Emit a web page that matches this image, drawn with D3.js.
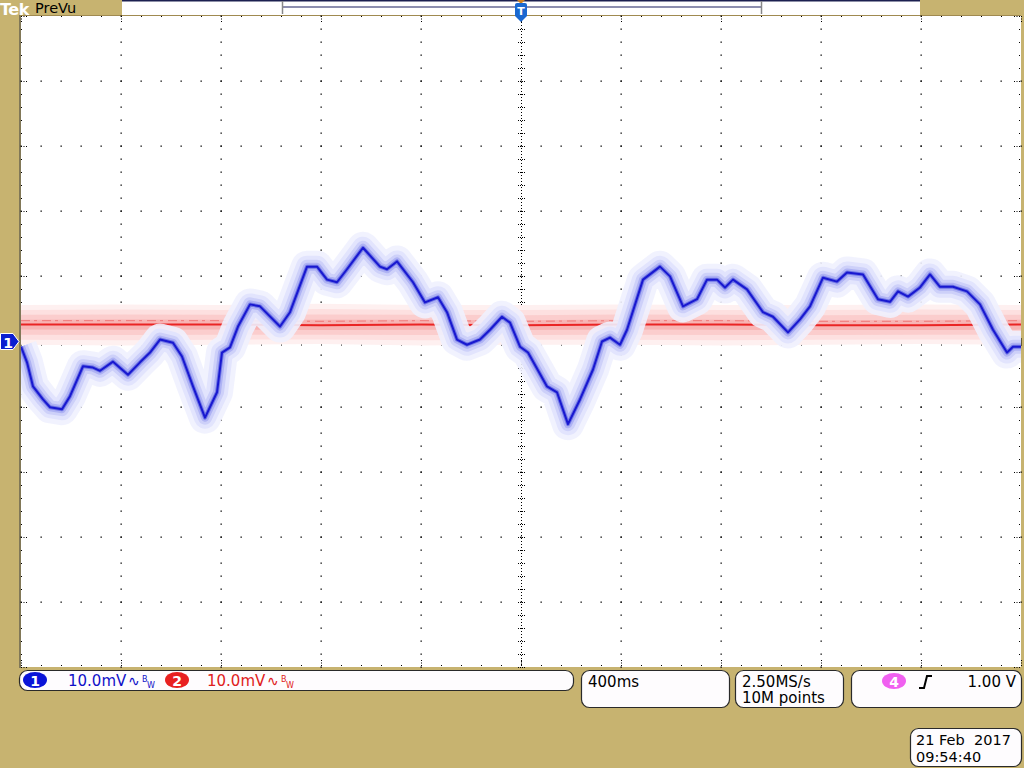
<!DOCTYPE html>
<html><head><meta charset="utf-8">
<script src="https://cdn.jsdelivr.net/npm/d3@7"></script>
<style>html,body{margin:0;padding:0;background:#c7b370;overflow:hidden}svg{display:block}text{white-space:pre}</style>
</head><body>
<svg id="c" width="1024" height="768"></svg>
<script>
// ---- Data ----
// Channel 1 (blue), time in ms relative to trigger, value in mV
const ch1Time = [-2000,-1976,-1952,-1912,-1884,-1836,-1804,-1752,-1712,-1684,-1632,-1572,-1524,-1484,-1444,-1392,-1356,-1312,-1264,-1216,-1196,-1164,-1132,-1084,-1044,-964,-924,-856,-816,-776,-736,-696,-632,-564,-536,-496,-432,-384,-332,-296,-256,-216,-164,-124,-76,-44,-4,28,104,144,188,236,288,324,356,396,424,488,556,596,648,704,744,784,816,848,904,968,1008,1068,1116,1156,1208,1264,1304,1368,1428,1476,1508,1548,1596,1636,1676,1728,1784,1836,1888,1944,1968,2000];
const ch1Values = [-0.8,-3.2,-6.9,-8.9,-10.1,-10.4,-8.4,-3.8,-4.0,-4.5,-3.1,-5.1,-3.2,-1.7,0.3,-0.2,-2.3,-6.9,-11.7,-7.8,-1.7,-0.9,2.3,5.7,5.4,2.3,4.5,11.5,11.5,9.5,9.1,11.1,14.4,11.5,11.1,12.3,9.1,6.0,6.8,4.5,0.3,-0.5,0.3,1.8,3.8,2.9,-0.8,-1.7,-6.9,-7.8,-12.7,-8.9,-4.3,0.0,0.6,-0.5,1.8,9.5,11.5,10.0,5.4,6.5,9.5,9.5,8.3,9.5,8.0,4.5,3.8,1.4,3.4,5.4,9.8,9.2,10.6,10.3,6.5,6.1,7.7,6.9,8.3,10.3,8.4,8.4,7.7,5.7,1.8,-1.7,-0.8,-0.8];
// Channel 2 (red)
const ch2Time   = [-2000,-1600,-1200,-800,-400,0,400,800,1200,1600,2000];
const ch2Values = [2.6,2.6,2.6,2.5,2.6,2.5,2.6,2.6,2.5,2.5,2.6];
const ch2Max    = [5.6,5.7,5.6,5.8,5.6,5.6,5.7,5.6,5.6,5.7,5.6];
const ch2Min    = [-0.5,-0.6,-0.5,-0.4,-0.6,-0.5,-0.5,-0.6,-0.5,-0.4,-0.5];
// Settings / labels
const timeDomain = [-2000, 2000];   // 400 ms/div, 10 divisions
const voltDomain = [-50, 50];       // 10 mV/div, 10 divisions
const ch1Scale = "10.0mV", ch2Scale = "10.0mV";
const timeScaleLabel = "400ms";
const sampleRate = "2.50MS/s", recordLen = "10M points";
const trigLevel = "1.00 V";
const dateLabel = "21 Feb  2017", timeLabel = "09:54:40";

// ---- Layout ----
const svg = d3.select("#c");
const L = 21, R = 1021, T = 16, B = 667;
const x = d3.scaleLinear().domain(timeDomain).range([L, R]);
const y = d3.scaleLinear().domain(voltDomain).range([B, T]);
const KH = "#c7b370";
const FONT = "DejaVu Sans, sans-serif";

svg.append("defs").append("clipPath").attr("id","plotclip").append("rect")
  .attr("x",L).attr("y",T).attr("width",R-L).attr("height",B-T);

svg.append("rect").attr("width",1024).attr("height",768).attr("fill",KH);

// top status bar
svg.append("rect").attr("x",122).attr("y",0).attr("width",798).attr("height",15).attr("fill","#fff");
svg.append("rect").attr("x",122).attr("y",0).attr("width",798).attr("height",1.5).attr("fill","#1c2050");
svg.append("text").attr("x",0).attr("y",15).attr("font-family",FONT).attr("font-size",16).attr("font-weight","bold").attr("fill","#fff").attr("letter-spacing",-0.5).text("Tek");
svg.append("text").attr("x",35).attr("y",13).attr("font-family",FONT).attr("font-size",14.5).attr("fill","#000").text("PreVu");
// record view bracket
svg.append("line").attr("x1",283).attr("x2",761).attr("y1",7).attr("y2",7).attr("stroke","#1c2060").attr("stroke-width",1.2);
[282.5,761.5].forEach(bx=>{
  svg.append("line").attr("x1",bx).attr("x2",bx).attr("y1",1).attr("y2",14).attr("stroke","#888").attr("stroke-width",1.5);
});

// plot area
svg.append("rect").attr("x",L).attr("y",T).attr("width",R-L).attr("height",B-T).attr("fill","#fff");
svg.append("line").attr("x1",20).attr("x2",20).attr("y1",15).attr("y2",668).attr("stroke","#6a6450").attr("stroke-width",1.5);
svg.append("line").attr("x1",20).attr("x2",1021).attr("y1",15.5).attr("y2",15.5).attr("stroke","#a08a50").attr("stroke-width",1);

// grid
const g = svg.append("g");
const majorX = d3.range(-2000, 2001, 400), majorY = d3.range(-50, 50.01, 10);
const minorX = d3.range(-2000, 2001, 80), minorY = d3.range(-50, 50.01, 2);
const dot = (px,py)=>g.append("rect").attr("x",Math.round(px)-0.5).attr("y",Math.round(py)-0.5).attr("width",1.3).attr("height",1.3).attr("fill","#000");
majorX.forEach(mx=>{ if(mx===-2000||mx===2000||mx===0) return; minorY.forEach(my=>dot(x(mx),y(my))); });
majorY.forEach(my=>{ if(my===-50||my===50||my===0) return; minorX.forEach(mx=>dot(x(mx),y(my))); });
// center crosshair
g.append("line").attr("x1",L).attr("x2",R).attr("y1",Math.round(y(0))+0.5).attr("y2",Math.round(y(0))+0.5).attr("stroke","#000").attr("stroke-width",1).attr("stroke-dasharray","1,2");
g.append("line").attr("x1",Math.round(x(0))+0.5).attr("x2",Math.round(x(0))+0.5).attr("y1",T).attr("y2",B).attr("stroke","#000").attr("stroke-width",1).attr("stroke-dasharray","1,2");
minorX.forEach(mx=>{ const px=Math.round(x(mx))+0.5;
  g.append("line").attr("x1",px).attr("x2",px).attr("y1",y(0)-3).attr("y2",y(0)+4).attr("stroke","#000").attr("stroke-dasharray","1,1");
  const len = (mx%400===0)?7:2;
  g.append("line").attr("x1",px).attr("x2",px).attr("y1",T).attr("y2",T+len).attr("stroke","#000").attr("stroke-dasharray","1,1.5");
  g.append("line").attr("x1",px).attr("x2",px).attr("y1",B-len).attr("y2",B).attr("stroke","#000").attr("stroke-dasharray","1,1.5");
});
minorY.forEach(my=>{ const py=Math.round(y(my))+0.5;
  g.append("line").attr("x1",x(0)-3).attr("x2",x(0)+4).attr("y1",py).attr("y2",py).attr("stroke","#000").attr("stroke-dasharray","1,1");
  const len = (Math.abs(my)%10===0)?7:2;
  g.append("line").attr("x1",L).attr("x2",L+len).attr("y1",py).attr("y2",py).attr("stroke","#000").attr("stroke-dasharray","1,1.5");
  g.append("line").attr("x1",R-len).attr("x2",R).attr("y1",py).attr("y2",py).attr("stroke","#000").attr("stroke-dasharray","1,1.5");
});

const traces = svg.append("g").attr("clip-path","url(#plotclip)");

// ---- Channel 2 (red) ----
const ch2 = ch2Time.map((t,i)=>({t, v:ch2Values[i], hi:ch2Max[i], lo:ch2Min[i]}));
const band = (f, col) => traces.append("path").datum(ch2)
  .attr("d", d3.area().x(d=>x(d.t)).y0(d=>y(d.v - f*(d.v-d.lo))).y1(d=>y(d.v + f*(d.hi-d.v))))
  .attr("fill", col);
band(1.0, "#fef0f0"); band(0.75, "#fde0e0"); band(0.5, "#fbcdcd"); band(0.25, "#f8b4b4");
const line2 = d3.line().x(d=>x(d.t)).y(d=>y(d.v));
traces.append("path").datum(ch2.map(d=>({t:d.t, v:d.v+0.6}))).attr("d",line2).attr("fill","none").attr("stroke","#f07a7a").attr("stroke-width",1).attr("stroke-dasharray","9,4,3,5");
traces.append("path").datum(ch2).attr("d",line2).attr("fill","none").attr("stroke","#ea2424").attr("stroke-width",2);

// ---- Channel 1 (blue) ----
const ch1 = ch1Time.map((t,i)=>({t, v:ch1Values[i]}));
const line1 = d3.line().x(d=>x(d.t)).y(d=>y(d.v));
const layers = [[32,"#f0f1fe",0.9],[22,"#e2e4fd",1],[14,"#cdd0f9",1],[8,"#aeb2f3",1],[4,"#7076e6",1],[2,"#1818d0",1]];
layers.forEach(([w,c,o])=>{
  traces.append("path").datum(ch1).attr("d",line1).attr("fill","none").attr("stroke",c).attr("stroke-opacity",o)
    .attr("stroke-width",w).attr("stroke-linejoin","round").attr("stroke-linecap","butt");
});

// trigger marker T
const tx = x(0);
svg.append("path").attr("d",`M${tx-4},0 L${tx+4},0 L${tx},4 Z`).attr("fill","#d08020");
svg.append("path").attr("d",`M${tx-6},5 Q${tx-6},3 ${tx-4},3 L${tx+4},3 Q${tx+6},3 ${tx+6},5 L${tx+6},16 L${tx},22 L${tx-6},16 Z`).attr("fill","#1a68d0");
svg.append("text").attr("x",tx).attr("y",15).attr("text-anchor","middle").attr("font-family",FONT).attr("font-size",11).attr("font-weight","bold").attr("fill","#fff").text("T");

// ch1 ground marker
const gy = y(0);
svg.append("path").attr("d",`M0.5,${gy-8} L13,${gy-8} L19,${gy} L13,${gy+8} L0.5,${gy+8} Z`).attr("fill","#0a1ed0").attr("stroke","#fff").attr("stroke-width",1);
svg.append("text").attr("x",8).attr("y",gy+6).attr("text-anchor","middle").attr("font-family",FONT).attr("font-size",14).attr("font-weight","bold").attr("fill","#fff").text("1");

// ---- Bottom status boxes ----
const box = (x0,y0,w,h)=>svg.append("rect").attr("x",x0+0.5).attr("y",y0+0.5).attr("width",w).attr("height",h).attr("rx",8).attr("fill","#fefcfe").attr("stroke","#2a2a2a").attr("stroke-width",1.2);
box(19,670,554,20);
box(581,670,148,37);
box(735,670,108,37);
box(851,670,170,37);
box(910,728,111,38);

const txt = (tx_,ty,s,col,size,anchor)=>svg.append("text").attr("x",tx_).attr("y",ty).attr("font-family",FONT).attr("font-size",size||15).attr("fill",col||"#000").attr("text-anchor",anchor||"start").text(s);
const badge = (cx,cy,col,s)=>{ svg.append("ellipse").attr("cx",cx).attr("cy",cy).attr("rx",12).attr("ry",8).attr("fill",col);
  txt(cx,cy+5.5,s,"#fff",14,"middle").attr("font-weight","bold"); };
const bw = (x0,col)=>{
  txt(x0,686,"∿",col,14);
  txt(x0+14,682,"B",col,8); txt(x0+19,688,"W",col,8);
};
badge(35,680,"#0a14d8","1");
txt(68,686,ch1Scale,"#1010c8",15); bw(128,"#1010c8");
badge(177,680,"#e82020","2");
txt(207,686,ch2Scale,"#e02020",15); bw(267,"#e02020");

txt(588,687,timeScaleLabel);
txt(742,687,sampleRate); txt(742,703,recordLen);
badge(894,681,"#f060f0","4");
svg.append("path").attr("d","M919,688 L924,688 L927,676 L932,676").attr("fill","none").attr("stroke","#000").attr("stroke-width",2);
txt(1016,687,trigLevel,"#000",15,"end");
txt(916,745,dateLabel,"#000",14.5); txt(916,762,timeLabel,"#000",14.5);
</script>
</body></html>
